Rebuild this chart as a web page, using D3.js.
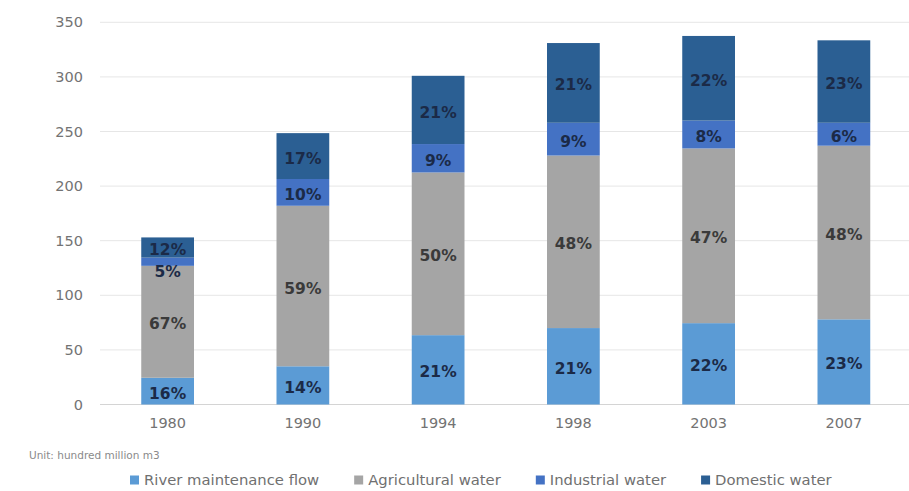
<!DOCTYPE html>
<html>
<head>
<meta charset="utf-8">
<script src="https://cdn.jsdelivr.net/npm/d3@7"></script>
<style>
  html, body { margin: 0; padding: 0; background: #ffffff; }
  svg { display: block; font-family: "DejaVu Sans", sans-serif; }
</style>
</head>
<body>
<svg id="chart" width="909" height="491"></svg>
<script>
// Water use by category, unit: hundred million m3
const years = ["1980", "1990", "1994", "1998", "2003", "2007"];
const seriesNames = ["River maintenance flow", "Agricultural water", "Industrial water", "Domestic water"];
const riverFlow    = [24.5, 35, 63.5, 70, 74.5, 78];
const agricultural = [102.5, 147, 149, 158, 160, 159];
const industrial   = [7.5, 24.5, 26, 30, 25.5, 21];
const domestic     = [18.5, 42, 62.5, 73, 77.5, 75.5];
// Share of each year's total, as printed on the segments
const riverPct = ["16%", "14%", "21%", "21%", "22%", "23%"];
const agriPct  = ["67%", "59%", "50%", "48%", "47%", "48%"];
const indPct   = ["5%", "10%", "9%", "9%", "8%", "6%"];
const domPct   = ["12%", "17%", "21%", "21%", "22%", "23%"];
const yTicks = [0, 50, 100, 150, 200, 250, 300, 350];
const unitNote = "Unit: hundred million m3";

const colors = ["#5b9bd5", "#a5a5a5", "#4472c4", "#2b5f93"];
const labelColors = ["#1b2a47", "#3a3a3a", "#1b2a47", "#1b2a47"];

const seriesValues = [riverFlow, agricultural, industrial, domestic];
const seriesLabels = [riverPct, agriPct, indPct, domPct];

const rows = years.map((y, i) => {
  const r = { year: y };
  seriesNames.forEach((s, k) => { r[s] = seriesValues[k][i]; });
  return r;
});
const stacked = d3.stack().keys(seriesNames)(rows);

const svg = d3.select("#chart");

const x = d3.scaleBand()
  .domain(years)
  .range([100, 911.5])
  .paddingInner(0.61)
  .paddingOuter(0.305);

const y = d3.scaleLinear()
  .domain([0, 350])
  .range([404.5, 22.3]);

// Horizontal gridlines
svg.append("g")
  .selectAll("line")
  .data(yTicks)
  .join("line")
  .attr("x1", 100)
  .attr("x2", 909)
  .attr("y1", d => y(d))
  .attr("y2", d => y(d))
  .attr("stroke", d => d === 0 ? "#d4d4d4" : "#e6e6e6")
  .attr("stroke-width", 1);

// Y axis labels
const yAxis = svg.append("g")
  .attr("transform", "translate(83,0)")
  .call(d3.axisLeft(y).tickValues(yTicks).tickSize(0).tickPadding(0));
yAxis.select(".domain").remove();
yAxis.selectAll("text")
  .attr("fill", "#737373")
  .attr("font-size", "14.5px")
  .attr("font-family", "DejaVu Sans, sans-serif");

// X axis labels
const xAxis = svg.append("g")
  .attr("transform", "translate(0,404.5)")
  .call(d3.axisBottom(x).tickSize(0).tickPadding(13));
xAxis.select(".domain").remove();
xAxis.selectAll("text")
  .attr("fill", "#737373")
  .attr("font-size", "14.5px")
  .attr("font-family", "DejaVu Sans, sans-serif");

// Stacked bars
const layers = svg.append("g")
  .selectAll("g")
  .data(stacked)
  .join("g")
  .attr("fill", (d, k) => colors[k]);

layers.selectAll("rect")
  .data(d => d)
  .join("rect")
  .attr("x", d => x(d.data.year))
  .attr("width", x.bandwidth())
  .attr("y", d => y(d[1]))
  .attr("height", d => y(d[0]) - y(d[1]));

// Percentage labels, centred in each segment; thin segments put
// their label just below the segment
const labels = svg.append("g")
  .attr("font-family", "DejaVu Sans, sans-serif")
  .attr("font-weight", "bold")
  .attr("font-size", "15.5px")
  .attr("text-anchor", "middle");

stacked.forEach((layer, k) => {
  layer.forEach((d, i) => {
    const top = y(d[1]);
    const bottom = y(d[0]);
    const h = bottom - top;
    const cy = h < 12 ? bottom + 6 : (top + bottom) / 2 + 2;
    labels.append("text")
      .attr("x", x(d.data.year) + x.bandwidth() / 2)
      .attr("y", cy)
      .attr("dy", "0.36em")
      .attr("fill", labelColors[k])
      .text(seriesLabels[k][i]);
  });
});

// Unit note
svg.append("text")
  .attr("x", 29)
  .attr("y", 455)
  .attr("dy", "0.35em")
  .attr("fill", "#8a8a8a")
  .attr("font-size", "10.5px")
  .text(unitNote);

// Legend
const legend = svg.append("g").attr("transform", "translate(130,480)");
let cursor = 0;
seriesNames.forEach((name, k) => {
  const g = legend.append("g").attr("transform", `translate(${cursor},0)`);
  g.append("rect")
    .attr("x", 0)
    .attr("y", -4.5)
    .attr("width", 9)
    .attr("height", 9)
    .attr("fill", colors[k]);
  const t = g.append("text")
    .attr("x", 14)
    .attr("y", 0)
    .attr("dy", "0.35em")
    .attr("fill", "#707070")
    .attr("font-size", "14.8px")
    .text(name);
  cursor += 14 + t.node().getComputedTextLength() + 35;
});
</script>
</body>
</html>
